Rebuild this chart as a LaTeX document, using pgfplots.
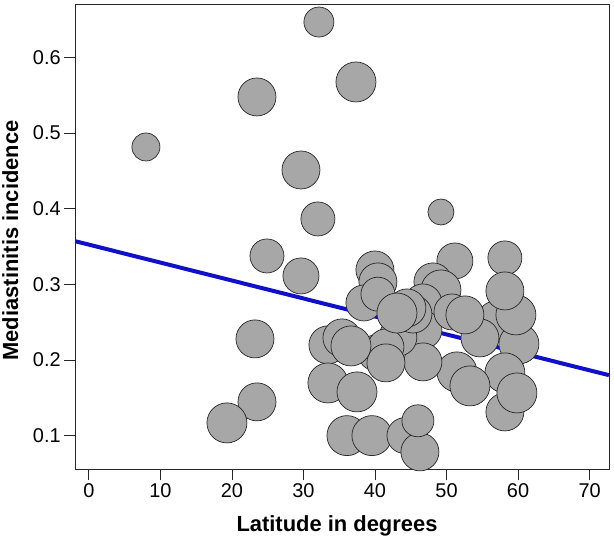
\documentclass[border=0pt]{standalone}
\usepackage{fontspec}
\setmainfont{Liberation Sans}
\usepackage{pgfplots}
\pgfplotsset{compat=1.18}
\usetikzlibrary{calc}
\definecolor{ptgray}{rgb}{0.655,0.655,0.655}
\definecolor{lineblue}{rgb}{0.06,0.06,0.80}
\begin{document}
\begin{tikzpicture}
\begin{axis}[
  name=ax,
  scale only axis,
  width=533.7bp, height=464.6bp,
  xmin=-1.91, xmax=72.7,
  ymin=0.0556, ymax=0.6695,
  xtick={0,10,...,70},
  ytick={0.1,0.2,0.3,0.4,0.5,0.6},
  xtick pos=left, ytick pos=left,
  tick align=outside,
  major tick length=11bp,
  tick style={black!85, line width=0.8bp},
  axis line style={black!85, line width=0.8bp},
  /pgf/number format/assume math mode=true,
  /pgf/number format/fixed,
  /pgf/number format/precision=1,
  tick label style={font=\fontsize{20}{24}\selectfont, black},
  xlabel={Latitude in degrees},
  ylabel={Mediastinitis incidence},
  every axis x label/.style={at={(axis description cs:0.4905,-0.1334)}, anchor=base, font=\bfseries\fontsize{22}{26}\selectfont},
  every axis y label/.style={at={(axis description cs:-0.1218,0.4925)}, rotate=90, anchor=center, font=\bfseries\fontsize{22}{26}\selectfont},
  clip=true,
]
\addplot[lineblue, line width=4bp] coordinates {(-1.91,0.357) (72.7,0.180)};
\addplot[only marks, scatter, mark=*,
  scatter/use mapped color={draw=black!85, fill=ptgray},
  visualization depends on={\thisrow{r}\as\rr},
  scatter/@pre marker code/.append style={/tikz/mark size=\rr bp},
  line width=0.7bp] table[x=x,y=y] {
x y r
7.98 0.4815 14
32.16 0.6466 15
23.50 0.5476 19
37.34 0.5674 20
29.65 0.4511 19
32.02 0.3864 17
49.22 0.3956 13
24.90 0.3375 17
29.65 0.3111 18
23.22 0.2279 19
23.50 0.1447 19
19.30 0.1169 20
58.16 0.3349 17
51.17 0.3309 18
56.91 0.2530 19
60.12 0.2213 20
54.67 0.2292 19
59.70 0.2596 20
58.16 0.2913 19
58.16 0.1314 19
58.16 0.1830 20
59.84 0.1565 20
48.10 0.3032 19
49.22 0.2926 20
46.70 0.2754 19
51.45 0.1843 20
53.27 0.1658 20
46.70 0.2398 19
46.70 0.1975 19
43.20 0.2302 19
40.13 0.2094 18
41.53 0.2173 18
41.53 0.1962 19
33.42 0.2200 19
35.38 0.2292 19
36.64 0.2186 20
33.42 0.1697 20
37.48 0.1579 20
36.08 0.1001 20
39.57 0.1001 20
44.19 0.1001 18
46.28 0.0786 19
46.00 0.1197 16
39.99 0.3190 19
40.41 0.3032 19
38.45 0.2754 18
40.41 0.2870 17
45.30 0.2608 19
44.46 0.2688 19
43.07 0.2621 20
50.76 0.2635 18
52.57 0.2596 19
};
\coordinate (sw) at (rel axis cs:0,0);
\coordinate (ne) at (rel axis cs:1,1);
\end{axis}
\pgfresetboundingbox
\path[use as bounding box] ($(sw)+(-75.2bp,-67.7bp)$) rectangle ($(ne)+(5.1bp,4.7bp)$);
\end{tikzpicture}
\end{document}
